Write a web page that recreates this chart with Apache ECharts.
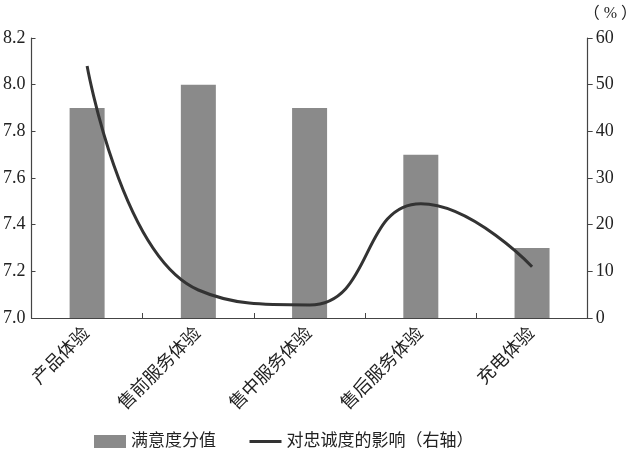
<!DOCTYPE html>
<html>
<head>
<meta charset="utf-8">
<script src="https://cdn.jsdelivr.net/npm/echarts@6/dist/echarts.min.js"></script>
<style>
html,body{margin:0;padding:0;background:#fff;}
#c{width:640px;height:457px;}
</style>
</head>
<body>
<div id="c"></div>
<script>
var categories = ['产品体验', '售前服务体验', '售中服务体验', '售后服务体验', '充电体验'];
var satisfaction = [7.9, 8.0, 7.9, 7.7, 7.3];
var loyaltyImpact = [54, 6, 2.8, 24.5, 11];
var seriesNames = ['满意度分值', '对忠诚度的影响（右轴）'];

var FONT = "'Liberation Serif', 'Noto Sans CJK SC', serif";
var chart = echarts.init(document.getElementById('c'));
chart.setOption({
  animation: false,
  backgroundColor: '#fff',
  textStyle: {fontFamily: FONT},
  grid: {left: 31, right: 49, top: 38, bottom: 139, containLabel: false},
  legend: {
    left: 89, top: 428,
    itemWidth: 32, itemHeight: 13, itemGap: 32,
    textStyle: {fontFamily: FONT, fontSize: 17, color: '#222'},
    data: [
      {name: seriesNames[0], icon: 'rect'},
      {name: seriesNames[1], itemStyle: {color: 'rgba(0,0,0,0)', borderWidth: 0}, lineStyle: {width: 3, color: '#333'}}
    ]
  },
  xAxis: {
    type: 'category',
    data: categories,
    axisLine: {lineStyle: {color: '#444', width: 1.2}},
    axisTick: {show: true, inside: true, length: 5, alignWithLabel: false, lineStyle: {color: '#444'}},
    axisLabel: {rotate: 45, fontSize: 18, color: '#222', fontFamily: FONT, margin: 13, interval: 0}
  },
  yAxis: [
    {
      type: 'value', min: 7.0, max: 8.2, interval: 0.2,
      splitLine: {show: false},
      axisLine: {show: true, lineStyle: {color: '#444', width: 1.2}},
      axisTick: {show: true, inside: true, length: 4, lineStyle: {color: '#444'}},
      axisLabel: {fontSize: 18, color: '#222', margin: 6, fontFamily: FONT,
        formatter: function (v) { return v.toFixed(1); }}
    },
    {
      type: 'value', min: 0, max: 60, interval: 10, position: 'right',
      name: '（ % ）', nameLocation: 'end', nameGap: 16,
      nameTextStyle: {fontSize: 16, color: '#222', align: 'left', padding: [0, 0, 0, -4], fontFamily: FONT},
      splitLine: {show: false},
      axisLine: {show: true, lineStyle: {color: '#444', width: 1.2}},
      axisTick: {show: true, inside: false, length: 5, lineStyle: {color: '#444'}},
      axisLabel: {fontSize: 18, color: '#222', margin: 8, fontFamily: FONT}
    }
  ],
  series: [
    {
      name: seriesNames[0], type: 'bar', yAxisIndex: 0,
      data: satisfaction, barWidth: 35,
      itemStyle: {color: '#8a8a8a'}
    },
    {
      name: seriesNames[1], type: 'line', yAxisIndex: 1,
      data: loyaltyImpact, smooth: 0.5, symbol: 'none',
      lineStyle: {color: '#333', width: 3},
      itemStyle: {color: '#333'}
    }
  ]
});
</script>
</body>
</html>
